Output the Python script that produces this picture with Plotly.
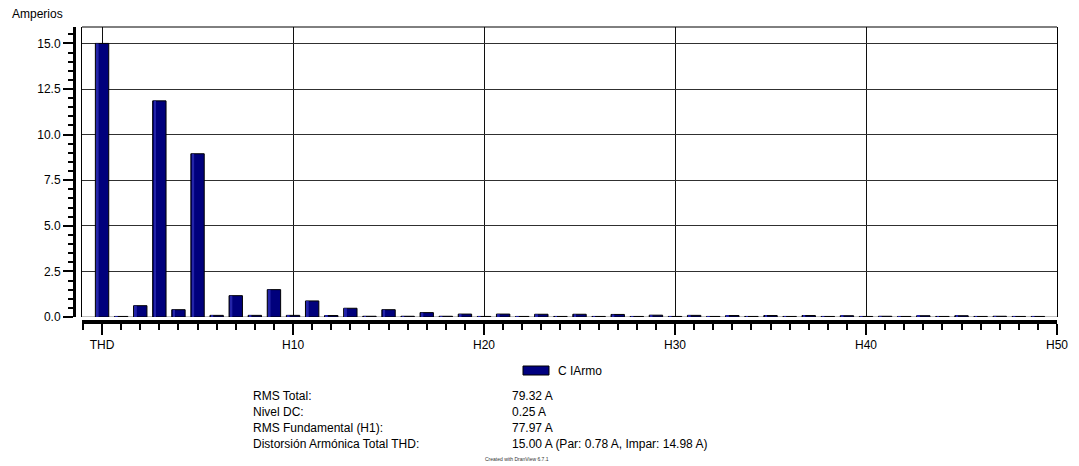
import plotly.graph_objects as go

# armónicos: posición 0 = THD, luego H1..H49
orders = list(range(50))
amps = [15.00, 0.03, 0.62, 11.85, 0.40, 8.95, 0.09, 1.17, 0.09, 1.50,
        0.09, 0.88, 0.08, 0.48, 0.04, 0.40, 0.04, 0.24, 0.04, 0.16,
        0.03, 0.16, 0.03, 0.15, 0.03, 0.15, 0.03, 0.14, 0.03, 0.10,
        0.03, 0.09, 0.03, 0.08, 0.03, 0.08, 0.03, 0.08, 0.03, 0.07,
        0.03, 0.04, 0.03, 0.07, 0.03, 0.07, 0.03, 0.04, 0.03, 0.03]

x_tick_pos = [0, 10, 20, 30, 40, 50]
x_tick_text = ["THD", "H10", "H20", "H30", "H40", "H50"]
y_tick_pos = [0, 2.5, 5, 7.5, 10, 12.5, 15]
y_tick_text = ["0.0", "2.5", "5.0", "7.5", "10.0", "12.5", "15.0"]

series_name = "C IArmo"
summary_labels = ["RMS Total:", "Nivel DC:", "RMS Fundamental (H1):",
                  "Distorsión Armónica Total THD:"]
summary_values = ["79.32 A", "0.25 A", "77.97 A",
                  "15.00 A (Par: 0.78 A, Impar: 14.98 A)"]

# la página tiene 8px de margen en el body: la figura se dibuja desplazada
OFF = 8
W, H = 1079 - OFF, 466 - OFF
ML, MR, MT, MB = 62, 22, 19, 140
PW, PH = W - ML - MR, H - MT - MB
FONT = "Liberation Sans, Arial, sans-serif"


def px(xp):
    # píxel de pantalla -> fracción de paper
    return (xp - OFF - ML) / PW


def py(yp):
    return (H - MB - (yp - OFF)) / PH


xdom = [px(82), 1]
ydom = [py(317), 1]
xr = [-1.05, 50]
yr = [0, 15.9]

fig = go.Figure()
fig.add_trace(go.Bar(
    x=orders, y=amps, width=0.7, name=series_name, showlegend=False,
    marker=dict(color="#00007c", line=dict(color="#000000", width=1)),
))
# franja clara para el efecto 3D
fig.add_trace(go.Bar(
    x=orders, y=amps, width=0.1, offset=-0.28, showlegend=False,
    hoverinfo="skip", marker=dict(color="#2424a8", line=dict(width=0)),
))
# traza vacía para mostrar los ejes desplazados
fig.add_trace(go.Scatter(x=[], y=[], xaxis="x2", yaxis="y2",
                         showlegend=False, hoverinfo="skip"))

fig.update_layout(
    width=W, height=H,
    margin=dict(l=ML, r=MR, t=MT, b=MB),
    paper_bgcolor="white", plot_bgcolor="white",
    font=dict(family=FONT, size=12, color="#000000"),
    barmode="overlay",
    xaxis=dict(domain=xdom, range=xr, tickvals=x_tick_pos, showticklabels=False,
               ticks="", showgrid=True, gridcolor="#101010", gridwidth=1,
               zeroline=False, showline=False, anchor="y"),
    yaxis=dict(domain=ydom, range=yr, tickvals=y_tick_pos, showticklabels=False,
               ticks="", showgrid=True, gridcolor="#303030", gridwidth=1,
               zeroline=False, showline=True, mirror=True,
               linecolor="#000000", linewidth=1, anchor="x"),
    xaxis2=dict(domain=xdom, range=xr, overlaying="x", anchor="free",
                position=py(322), showgrid=False, zeroline=False,
                showline=True, linecolor="#000000", linewidth=4,
                tickvals=x_tick_pos, ticktext=x_tick_text, ticks="outside",
                ticklen=11, tickwidth=1.5, tickcolor="#000000",
                tickfont=dict(size=12),
                minor=dict(dtick=1, tick0=0, ticks="outside", ticklen=6,
                           tickwidth=1.5, tickcolor="#000000", showgrid=False)),
    yaxis2=dict(domain=ydom, range=yr, overlaying="y", anchor="free",
                position=px(74), side="left", showgrid=False, zeroline=False,
                showline=True, linecolor="#000000", linewidth=3,
                tickvals=y_tick_pos, ticktext=y_tick_text, ticks="outside",
                ticklen=10, tickwidth=1.5, tickcolor="#000000",
                tickfont=dict(size=12),
                minor=dict(dtick=0.5, tick0=0, ticks="outside", ticklen=5,
                           tickwidth=1.5, tickcolor="#000000", showgrid=False)),
)

# marco superior y línea base gris
fig.add_shape(type="line", xref="x domain", yref="y domain",
              x0=0, x1=1, y0=1, y1=1, line=dict(color="#000000", width=1))
fig.add_shape(type="line", xref="x domain", yref="y", layer="below",
              x0=0, x1=1, y0=0, y1=0, line=dict(color="#c0c0c0", width=2))

# leyenda
fig.add_shape(type="rect", xref="paper", yref="paper",
              x0=px(523), x1=px(549), y0=py(375), y1=py(366),
              fillcolor="#000080", line=dict(color="#000000", width=1))
fig.add_annotation(x=px(556), y=py(370.5), xref="paper", yref="paper",
                   text=series_name, showarrow=False, xanchor="left",
                   yanchor="middle", font=dict(size=12))

# título del eje
fig.add_annotation(x=px(10), y=py(14), xref="paper", yref="paper",
                   text="Amperios", showarrow=False, xanchor="left",
                   yanchor="middle", font=dict(size=12))

# resumen
for i, (lab, val) in enumerate(zip(summary_labels, summary_values)):
    yy = py(396 + 16 * i)
    fig.add_annotation(x=px(251), y=yy, xref="paper", yref="paper", text=lab,
                       showarrow=False, xanchor="left", yanchor="middle",
                       font=dict(size=12))
    fig.add_annotation(x=px(510), y=yy, xref="paper", yref="paper", text=val,
                       showarrow=False, xanchor="left", yanchor="middle",
                       font=dict(size=12))

fig.add_annotation(x=px(517), y=py(459), xref="paper", yref="paper",
                   text="Created with DranView 6.7.1", showarrow=False,
                   xanchor="center", yanchor="middle",
                   font=dict(size=5, color="#333333"))

fig.write_html("out.html")
